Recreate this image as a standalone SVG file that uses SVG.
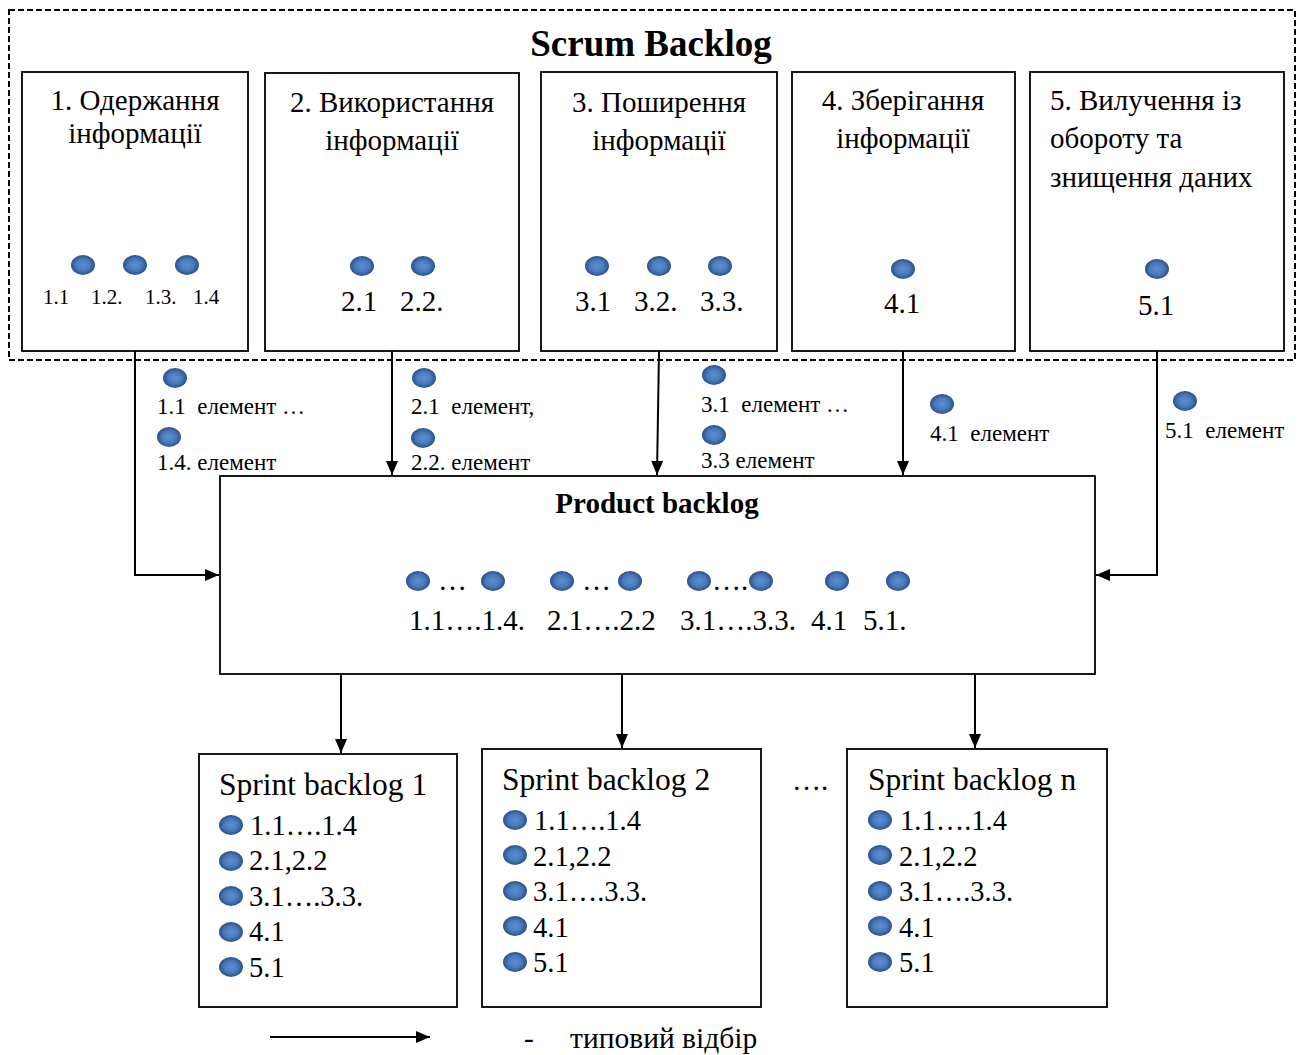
<svg xmlns="http://www.w3.org/2000/svg" xmlns:xlink="http://www.w3.org/1999/xlink" width="1303" height="1055" viewBox="0 0 1303 1055">
  <style>
    .box { fill: #ffffff; stroke: #000000; stroke-width: 1.8; }
    .frame { fill: none; stroke: #000000; stroke-width: 2; stroke-dasharray: 6 3; }
    .wire { fill: none; stroke: #000000; stroke-width: 2; }
    text { font-family: "Liberation Serif", "Times New Roman", serif; fill: #000000; }
    .title { font-size: 37px; font-weight: bold; text-anchor: middle; }
    .head { font-size: 29px; }
    .mid { text-anchor: middle; }
    .sm { font-size: 21px; }
    .lbl { font-size: 23px; }
    .num { font-size: 29px; }
    .pb { font-size: 29px; font-weight: bold; text-anchor: middle; }
    .sprint { font-size: 31.5px; }
    .item { font-size: 28.5px; }
    .legend { font-size: 29.5px; }
  </style>
  <defs>
    <radialGradient id="dotFill" cx="50%" cy="50%" r="50%">
      <stop offset="0%" stop-color="#5a8fd2"/>
      <stop offset="55%" stop-color="#4a7cbf"/>
      <stop offset="100%" stop-color="#2b5188"/>
    </radialGradient>
    <filter id="soft" x="-30%" y="-30%" width="160%" height="160%">
      <feGaussianBlur stdDeviation="0.7"/>
    </filter>
    <ellipse id="dot" cx="0" cy="0" rx="12" ry="10" fill="url(#dotFill)" filter="url(#soft)"/>
    <marker id="arrow" viewBox="0 0 14 12" refX="14" refY="6" markerWidth="14" markerHeight="12" markerUnits="userSpaceOnUse" orient="auto">
      <path d="M0,0 L14,6 L0,12 Z" fill="#000000"/>
    </marker>
  </defs>

  <!-- Scrum backlog frame -->
  <g id="scrum-backlog">
    <rect class="frame" x="9" y="10" width="1286" height="350"/>
    <text class="title" x="651" y="56">Scrum Backlog</text>
  </g>

  <!-- Connectors -->
  <g id="connectors">
    <polyline class="wire" points="135,351 135,575 219,575" marker-end="url(#arrow)"/>
    <line class="wire" x1="392" y1="351" x2="392" y2="475" marker-end="url(#arrow)"/>
    <line class="wire" x1="659" y1="351" x2="657" y2="475" marker-end="url(#arrow)"/>
    <line class="wire" x1="903" y1="351" x2="903" y2="475" marker-end="url(#arrow)"/>
    <polyline class="wire" points="1157,351 1157,575 1096,575" marker-end="url(#arrow)"/>
    <line class="wire" x1="341" y1="674" x2="341" y2="753" marker-end="url(#arrow)"/>
    <line class="wire" x1="622" y1="674" x2="622" y2="748" marker-end="url(#arrow)"/>
    <line class="wire" x1="975" y1="674" x2="975" y2="748" marker-end="url(#arrow)"/>
  </g>

  <!-- Stage 1 -->
  <g id="stage-1">
    <rect class="box" x="22" y="72" width="226" height="279"/>
    <text class="head mid" x="135" y="110">1. Одержання</text>
    <text class="head mid" x="135" y="143">інформації</text>
    <use xlink:href="#dot" x="83" y="265"/>
    <use xlink:href="#dot" x="135" y="265"/>
    <use xlink:href="#dot" x="187" y="265"/>
    <text class="sm" x="43" y="304">1.1</text>
    <text class="sm" x="91" y="304">1.2.</text>
    <text class="sm" x="145" y="304">1.3.</text>
    <text class="sm" x="193" y="304">1.4</text>
  </g>

  <!-- Stage 2 -->
  <g id="stage-2">
    <rect class="box" x="265" y="73" width="254" height="278"/>
    <text class="head mid" x="392" y="112">2. Використання</text>
    <text class="head mid" x="392" y="150">інформації</text>
    <use xlink:href="#dot" x="362" y="266"/>
    <use xlink:href="#dot" x="423" y="266"/>
    <text class="num" x="341" y="311">2.1</text>
    <text class="num" x="400" y="311">2.2.</text>
  </g>

  <!-- Stage 3 -->
  <g id="stage-3">
    <rect class="box" x="541" y="72" width="236" height="279"/>
    <text class="head mid" x="659" y="112">3. Поширення</text>
    <text class="head mid" x="659" y="150">інформації</text>
    <use xlink:href="#dot" x="597" y="266"/>
    <use xlink:href="#dot" x="659" y="266"/>
    <use xlink:href="#dot" x="720" y="266"/>
    <text class="num" x="575" y="311">3.1</text>
    <text class="num" x="634" y="311">3.2.</text>
    <text class="num" x="700" y="311">3.3.</text>
  </g>

  <!-- Stage 4 -->
  <g id="stage-4">
    <rect class="box" x="792" y="72" width="223" height="279"/>
    <text class="head mid" x="903" y="110">4. Зберігання</text>
    <text class="head mid" x="903" y="148">інформації</text>
    <use xlink:href="#dot" x="903" y="269"/>
    <text class="num mid" x="902" y="313">4.1</text>
  </g>

  <!-- Stage 5 -->
  <g id="stage-5">
    <rect class="box" x="1030" y="72" width="254" height="279"/>
    <text class="head" x="1050" y="110">5. Вилучення із</text>
    <text class="head" x="1050" y="148">обороту та</text>
    <text class="head" x="1050" y="187">знищення даних</text>
    <use xlink:href="#dot" x="1157" y="269"/>
    <text class="num mid" x="1156" y="315">5.1</text>
  </g>

  <!-- Selected elements between stages and the product backlog -->
  <g id="selected-elements">
    <use xlink:href="#dot" x="175" y="378"/>
    <text class="lbl" x="157" y="414" xml:space="preserve">1.1  елемент …</text>
    <use xlink:href="#dot" x="169" y="437"/>
    <text class="lbl" x="157" y="470">1.4. елемент</text>
    <use xlink:href="#dot" x="424" y="378"/>
    <text class="lbl" x="411" y="414" xml:space="preserve">2.1  елемент,</text>
    <use xlink:href="#dot" x="423" y="438"/>
    <text class="lbl" x="411" y="470">2.2. елемент</text>
    <use xlink:href="#dot" x="714" y="375"/>
    <text class="lbl" x="701" y="412" xml:space="preserve">3.1  елемент …</text>
    <use xlink:href="#dot" x="714" y="435"/>
    <text class="lbl" x="701" y="468">3.3 елемент</text>
    <use xlink:href="#dot" x="942" y="404"/>
    <text class="lbl" x="930" y="441" xml:space="preserve">4.1  елемент</text>
    <use xlink:href="#dot" x="1185" y="401"/>
    <text class="lbl" x="1165" y="438" xml:space="preserve">5.1  елемент</text>
  </g>

  <!-- Product backlog -->
  <g id="product-backlog">
    <rect class="box" x="220" y="476" width="875" height="198"/>
    <text class="pb" x="657" y="513">Product backlog</text>
    <use xlink:href="#dot" x="418" y="581"/>
    <text class="num" x="438" y="590">…</text>
    <use xlink:href="#dot" x="493" y="581"/>
    <use xlink:href="#dot" x="562" y="581"/>
    <text class="num" x="582" y="590">…</text>
    <use xlink:href="#dot" x="630" y="581"/>
    <use xlink:href="#dot" x="699" y="581"/>
    <text class="num" x="712" y="590">….</text>
    <use xlink:href="#dot" x="761" y="581"/>
    <use xlink:href="#dot" x="837" y="581"/>
    <use xlink:href="#dot" x="898" y="581"/>
    <text class="num" x="409" y="630">1.1….1.4.</text>
    <text class="num" x="547" y="630">2.1….2.2</text>
    <text class="num" x="680" y="630">3.1….3.3.</text>
    <text class="num" x="811" y="630">4.1</text>
    <text class="num" x="863" y="630">5.1.</text>
  </g>

  <!-- Sprint backlog 1 -->
  <g id="sprint-1">
    <rect class="box" x="199" y="754" width="258" height="253"/>
    <text class="sprint" x="219" y="795">Sprint backlog 1</text>
    <use xlink:href="#dot" x="231" y="825"/>
    <text class="item" x="250" y="835">1.1….1.4</text>
    <use xlink:href="#dot" x="231" y="861"/>
    <text class="item" x="249" y="870">2.1,2.2</text>
    <use xlink:href="#dot" x="231" y="896"/>
    <text class="item" x="249" y="906">3.1….3.3.</text>
    <use xlink:href="#dot" x="231" y="932"/>
    <text class="item" x="249" y="941">4.1</text>
    <use xlink:href="#dot" x="231" y="967"/>
    <text class="item" x="249" y="977">5.1</text>
  </g>

  <!-- Sprint backlog 2 -->
  <g id="sprint-2">
    <rect class="box" x="482" y="749" width="279" height="258"/>
    <text class="sprint" x="502" y="790">Sprint backlog 2</text>
    <use xlink:href="#dot" x="515" y="820"/>
    <text class="item" x="534" y="830">1.1….1.4</text>
    <use xlink:href="#dot" x="515" y="855"/>
    <text class="item" x="533" y="866">2.1,2.2</text>
    <use xlink:href="#dot" x="515" y="891"/>
    <text class="item" x="533" y="901">3.1….3.3.</text>
    <use xlink:href="#dot" x="515" y="926"/>
    <text class="item" x="533" y="937">4.1</text>
    <use xlink:href="#dot" x="515" y="962"/>
    <text class="item" x="533" y="972">5.1</text>
  </g>

  <text id="more-sprints" class="num" x="792" y="790">….</text>

  <!-- Sprint backlog n -->
  <g id="sprint-n">
    <rect class="box" x="847" y="749" width="260" height="258"/>
    <text class="sprint" x="868" y="790">Sprint backlog n</text>
    <use xlink:href="#dot" x="880" y="820"/>
    <text class="item" x="900" y="830">1.1….1.4</text>
    <use xlink:href="#dot" x="880" y="855"/>
    <text class="item" x="899" y="866">2.1,2.2</text>
    <use xlink:href="#dot" x="880" y="891"/>
    <text class="item" x="899" y="901">3.1….3.3.</text>
    <use xlink:href="#dot" x="880" y="926"/>
    <text class="item" x="899" y="937">4.1</text>
    <use xlink:href="#dot" x="880" y="962"/>
    <text class="item" x="899" y="972">5.1</text>
  </g>

  <!-- Legend -->
  <g id="legend">
    <line class="wire" x1="270" y1="1037" x2="430" y2="1037" marker-end="url(#arrow)"/>
    <text class="legend" x="524" y="1048">-</text>
    <text class="legend" x="570" y="1048">типовий відбір</text>
  </g>
</svg>
